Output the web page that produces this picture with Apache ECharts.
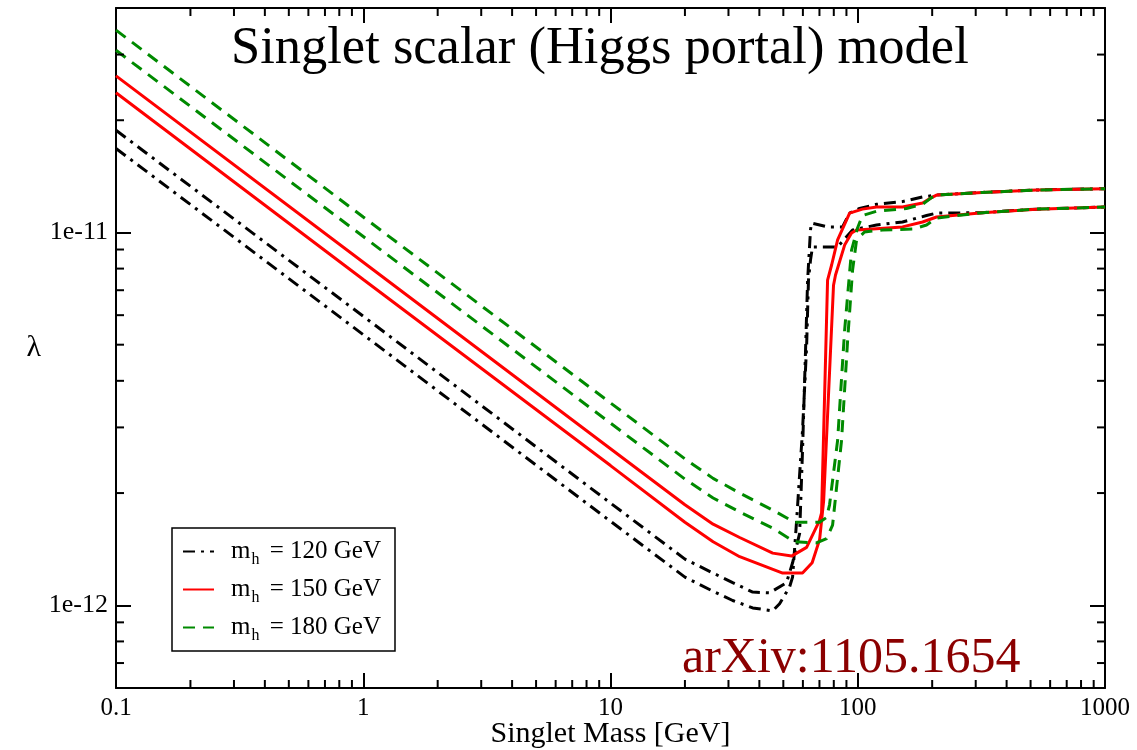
<!DOCTYPE html>
<html>
<head>
<meta charset="utf-8">
<script src="https://cdn.jsdelivr.net/npm/echarts@6/dist/echarts.min.js"></script>
<style>
  html, body { margin: 0; padding: 0; background: #fff; }
  #chart { width: 1137px; height: 750px; }
</style>
</head>
<body>
<div id="chart"></div>
<script>
// Relic-abundance coupling bands for the singlet scalar (Higgs portal) model.
// Each Higgs mass gives a pair of curves: [singlet mass in GeV, lambda].

const mh120Upper = [
  [0.1, 1.88e-11], [1, 5.96e-12], [10, 1.88e-12], [20, 1.33e-12], [26, 1.22e-12], [31.2, 1.15e-12],
  [37.6, 1.085e-12], [44.0, 1.08e-12], [51.5, 1.15e-12], [54.5, 1.30e-12], [58.2, 1.56e-12],
  [59.8, 2.61e-12], [61.5, 4.84e-12], [62.7, 7.45e-12], [64.4, 1.016e-11], [65.0, 1.06e-11],
  [75.5, 1.035e-11], [86.8, 1.035e-11], [92.7, 1.127e-11], [101.7, 1.16e-11], [119.1, 1.19e-11],
  [151.7, 1.21e-11], [182.9, 1.245e-11], [208.3, 1.26e-11], [319, 1.28e-11], [528, 1.30e-11],
  [1000, 1.31e-11]
];
const mh120Lower = [
  [0.1, 1.68e-11], [1, 5.32e-12], [10, 1.68e-12], [20, 1.19e-12], [26, 1.09e-12], [31.2, 1.03e-12],
  [37.6, 9.84e-13], [45.3, 9.66e-13], [48.3, 1.01e-12], [53.0, 1.12e-12], [54.5, 1.19e-12],
  [56.6, 1.69e-12], [59.8, 2.95e-12], [62.1, 4.93e-12], [63.2, 7.45e-12], [64.4, 8.43e-12],
  [65.6, 9.14e-12], [82.9, 9.14e-12], [95.3, 1.016e-11], [119.1, 1.047e-11], [151.7, 1.067e-11],
  [189.8, 1.11e-11], [208.3, 1.127e-11], [319, 1.13e-11], [528, 1.155e-11], [1000, 1.17e-11]
];
const mh150Upper = [
  [0.1, 2.63e-11], [1, 8.32e-12], [10, 2.63e-12], [20, 1.86e-12], [26, 1.65e-12], [33.3, 1.52e-12],
  [45.3, 1.38e-12], [54.0, 1.355e-12], [62.1, 1.43e-12], [70.1, 1.69e-12], [71.4, 1.77e-12],
  [75.5, 7.45e-12], [78.4, 8.18e-12], [82.9, 9.55e-12], [92.7, 1.127e-11], [104.5, 1.155e-11],
  [119.1, 1.17e-11], [151.7, 1.17e-11], [182.9, 1.20e-11], [198.8, 1.24e-11], [208.3, 1.26e-11],
  [319, 1.28e-11], [528, 1.30e-11], [1000, 1.31e-11]
];
const mh150Lower = [
  [0.1, 2.37e-11], [1, 7.48e-12], [10, 2.37e-12], [20, 1.67e-12], [26, 1.48e-12], [33.3, 1.35e-12],
  [49.7, 1.22e-12], [59.8, 1.22e-12], [65.4, 1.30e-12], [70.1, 1.50e-12], [72.8, 1.91e-12],
  [79.8, 7.22e-12], [81.3, 7.69e-12], [88.5, 9.25e-12], [94.4, 9.96e-12], [98.9, 1.016e-11],
  [114.7, 1.021e-11], [151.7, 1.035e-11], [182.9, 1.067e-11], [208.3, 1.10e-11], [319, 1.13e-11],
  [528, 1.155e-11], [1000, 1.17e-11]
];
const mh180Upper = [
  [0.1, 3.49e-11], [1, 1.10e-11], [10, 3.49e-12], [20, 2.47e-12], [26, 2.19e-12], [33.3, 2.00e-12],
  [45.3, 1.80e-12], [55.5, 1.67e-12], [70.1, 1.67e-12], [74.8, 1.72e-12], [76.9, 1.86e-12],
  [82.9, 2.77e-12], [88.5, 5.47e-12], [94.4, 8.97e-12], [99.8, 1.028e-11], [104.5, 1.11e-11],
  [119.1, 1.14e-11], [157.4, 1.16e-11], [182.9, 1.19e-11], [198.8, 1.24e-11], [208.3, 1.26e-11],
  [319, 1.28e-11], [528, 1.30e-11], [1000, 1.31e-11]
];
const mh180Lower = [
  [0.1, 3.08e-11], [1, 9.75e-12], [10, 3.08e-12], [20, 2.18e-12], [26, 1.94e-12], [33.3, 1.78e-12],
  [45.3, 1.61e-12], [55.5, 1.48e-12], [68.1, 1.47e-12], [74.8, 1.51e-12], [79.1, 1.64e-12],
  [86.0, 2.77e-12], [91.0, 5.14e-12], [95.3, 7.93e-12], [98.9, 9.55e-12], [106.5, 1.003e-11],
  [126, 1.016e-11], [166.6, 1.021e-11], [189.8, 1.047e-11], [208.3, 1.093e-11], [319, 1.13e-11],
  [528, 1.155e-11], [1000, 1.17e-11]
];

const legendNames = ['m_h = 120 GeV', 'm_h = 150 GeV', 'm_h = 180 GeV'];

// Axis ranges and minor tick positions (2..9 within each decade).
const X_MIN = 0.1, X_MAX = 1000;
const Y_MIN = 6e-13, Y_MAX = 4e-11;
const minorMultiples = [2, 3, 4, 5, 6, 7, 8, 9];
const xDecades = [0.1, 1, 10, 100];
const yDecades = [1e-13, 1e-12, 1e-11];

const xMinorTicks = [];
xDecades.forEach(d => minorMultiples.forEach(k => xMinorTicks.push(Number((d * k).toPrecision(3)))));
const yMinorTicks = [];
yDecades.forEach(d => minorMultiples.forEach(k => {
  const v = Number((d * k).toPrecision(3));
  if (v > Y_MIN * 1.0001 && v < Y_MAX * 0.9999) yMinorTicks.push(v);
}));

const SERIF = '"Liberation Serif", "Times New Roman", serif';
const GREEN = '#008a00';

const chart = echarts.init(document.getElementById('chart'), null, { renderer: 'canvas' });

function curve(name, data, color, type) {
  return {
    name: name,
    type: 'line',
    data: data,
    showSymbol: false,
    symbol: 'none',
    smooth: false,
    clip: true,
    lineStyle: { color: color, width: 3, type: type, cap: 'butt' },
    itemStyle: { color: color },
    emphasis: { disabled: true },
    z: 3
  };
}

const dashDot = [12, 6, 3, 6];
const dashed = [12, 8];

function minorTickSeries(values, onX) {
  return {
    type: 'custom',
    coordinateSystem: 'cartesian2d',
    xAxisIndex: 0,
    yAxisIndex: 0,
    clip: false,
    silent: true,
    z: 6,
    data: values.map(v => onX ? [v, Y_MIN] : [X_MIN, v]),
    renderItem: function (params, api) {
      const st = { stroke: '#000', lineWidth: 2 };
      if (onX) {
        const v = api.value(0);
        const b = api.coord([v, Y_MIN]);
        const t = api.coord([v, Y_MAX]);
        return { type: 'group', children: [
          { type: 'line', shape: { x1: b[0], y1: b[1], x2: b[0], y2: b[1] - 8 }, style: st },
          { type: 'line', shape: { x1: t[0], y1: t[1], x2: t[0], y2: t[1] + 8 }, style: st }
        ]};
      }
      const v = api.value(1);
      const l = api.coord([X_MIN, v]);
      const r = api.coord([X_MAX, v]);
      return { type: 'group', children: [
        { type: 'line', shape: { x1: l[0], y1: l[1], x2: l[0] + 8, y2: l[1] }, style: st },
        { type: 'line', shape: { x1: r[0], y1: r[1], x2: r[0] - 8, y2: r[1] }, style: st }
      ]};
    }
  };
}

const axisLineStyle = { color: '#000', width: 2 };
const majorTick = { inside: true, length: 15, lineStyle: { color: '#000', width: 2 } };

function fmtX(v) { return String(Number(v.toPrecision(4))); }
function fmtY(v) {
  const lg = Math.log10(v);
  const e = Math.round(lg);
  if (Math.abs(lg - e) > 1e-6) return '';
  return '1e' + e;
}

const option = {
  backgroundColor: '#fff',
  animation: false,
  title: {
    text: 'Singlet scalar (Higgs portal) model',
    left: 226,
    top: 18,
    textStyle: { fontFamily: SERIF, fontSize: 52.5, fontWeight: 'normal', color: '#000' }
  },
  grid: { left: 116, right: 32, top: 8, bottom: 62, containLabel: false, outerBoundsMode: 'none' },
  xAxis: [
    {
      type: 'log', logBase: 10, min: X_MIN, max: X_MAX, position: 'bottom',
      axisLine: { lineStyle: axisLineStyle },
      axisTick: majorTick,
      splitLine: { show: false },
      axisLabel: { fontFamily: SERIF, fontSize: 25, color: '#000', margin: 8, formatter: fmtX },
      name: 'Singlet Mass [GeV]', nameLocation: 'middle', nameGap: 31, nameMoveOverlap: false,
      nameTextStyle: { fontFamily: SERIF, fontSize: 30, color: '#000', lineHeight: 30,
        verticalAlign: 'top', padding: [0, 0, 0, 0] }
    },
    {
      type: 'log', logBase: 10, min: X_MIN, max: X_MAX, position: 'top',
      axisLine: { lineStyle: axisLineStyle },
      axisTick: majorTick,
      splitLine: { show: false },
      axisLabel: { show: false }
    }
  ],
  yAxis: [
    {
      type: 'log', logBase: 10, min: Y_MIN, max: Y_MAX, position: 'left',
      axisLine: { lineStyle: axisLineStyle },
      axisTick: majorTick,
      splitLine: { show: false },
      axisLabel: { fontFamily: SERIF, fontSize: 26, color: '#000', margin: 8, formatter: fmtY },
      name: 'λ', nameLocation: 'middle', nameRotate: 0, nameGap: 75, nameMoveOverlap: false,
      nameTextStyle: { fontFamily: SERIF, fontSize: 30, color: '#000', padding: [14, 0, 0, 0] }
    },
    {
      type: 'log', logBase: 10, min: Y_MIN, max: Y_MAX, position: 'right',
      axisLine: { lineStyle: axisLineStyle },
      axisTick: majorTick,
      splitLine: { show: false },
      axisLabel: { show: false }
    }
  ],
  legend: {
    data: legendNames,
    orient: 'vertical',
    left: 172,
    top: 528,
    padding: [11, 14, 7, 10],
    itemGap: 9,
    itemWidth: 31,
    itemHeight: 14,
    backgroundColor: '#fff',
    borderColor: '#000',
    borderWidth: 1.5,
    selectedMode: false,
    itemStyle: { opacity: 0 },
    formatter: function (name) {
      const mass = name.match(/\d+/)[0];
      return '{m|m}{sub|h}{t| = ' + mass + ' GeV}';
    },
    textStyle: {
      fontFamily: SERIF, fontSize: 25, color: '#000',
      rich: {
        m: { fontFamily: SERIF, fontSize: 25, color: '#000', padding: [0, 0, 0, 12] },
        sub: { fontFamily: SERIF, fontSize: 16, color: '#000', padding: [17, 4, 0, 1] },
        t: { fontFamily: SERIF, fontSize: 25, color: '#000' }
      }
    }
  },
  graphic: [
    {
      type: 'text', left: 682, top: 634, z: 10,
      style: { text: 'arXiv:1105.1654', font: '50px "Liberation Serif", serif', fill: '#8b0000' }
    }
  ],
  series: [
    curve(legendNames[0], mh120Upper, '#000', dashDot),
    curve(legendNames[0], mh120Lower, '#000', dashDot),
    curve(legendNames[1], mh150Upper, '#ff0000', 'solid'),
    curve(legendNames[1], mh150Lower, '#ff0000', 'solid'),
    curve(legendNames[2], mh180Upper, GREEN, dashed),
    curve(legendNames[2], mh180Lower, GREEN, dashed),
    minorTickSeries(xMinorTicks, true),
    minorTickSeries(yMinorTicks, false)
  ]
};

chart.setOption(option);
</script>
</body>
</html>
